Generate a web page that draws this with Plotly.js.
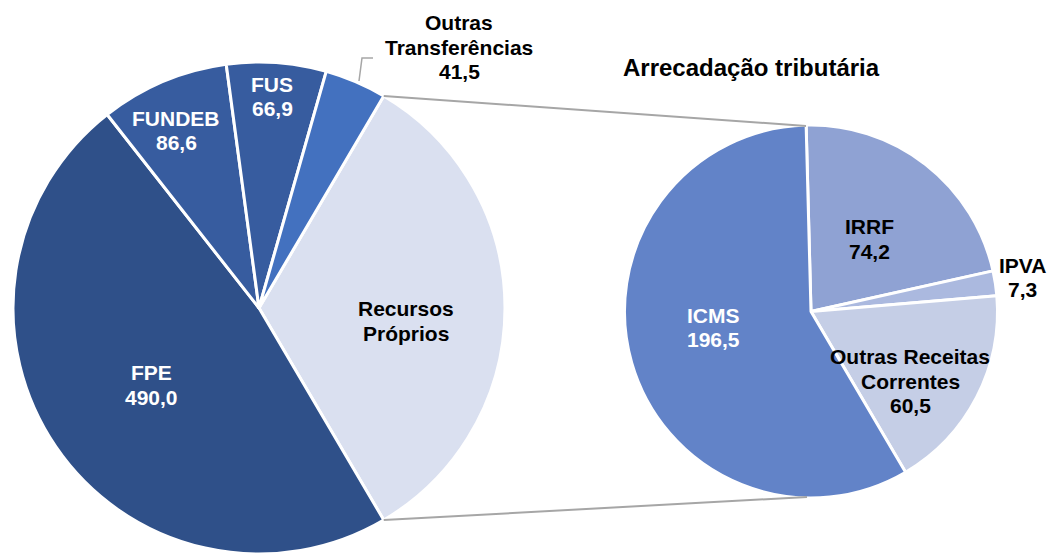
<!DOCTYPE html>
<html><head><meta charset="utf-8">
<script src="https://cdn.plot.ly/plotly-3.0.1.min.js"></script>
<style>html,body{margin:0;padding:0;background:#fff}#chart{width:1054px;height:556px}</style>
</head><body><div id="chart"></div>
<script>
// Transferências + Recursos Próprios (left pie)
const fontesLabels = ['Recursos<br>Próprios', 'FPE', 'FUNDEB', 'FUS', 'Outras<br>Transferências'];
const transferValues = [490.0, 86.6, 66.9, 41.5];
// Arrecadação tributária (right pie)
const tribLabels = ['IRRF', 'IPVA', 'Outras Receitas<br>Correntes', 'ICMS'];
const tribValues = [74.2, 7.3, 60.5, 196.5];
const chartTitle = 'Arrecadação tributária';

const recursosProprios = tribValues.reduce((a, b) => a + b, 0);
const fontesValues = [recursosProprios].concat(transferValues);
const fontesTotal = fontesValues.reduce((a, b) => a + b, 0);
const rpAngle = 360 * recursosProprios / fontesTotal;
const leftRotation = 90 - rpAngle / 2;

const W = 1054, H = 556;
const L = {cx: 259, cy: 308, r: 246};
const R = {cx: 811, cy: 311.5, r: 186.5};
const px = x => x / W, py = y => 1 - y / H;
function dom(c) { return {x: [px(c.cx - c.r), px(c.cx + c.r)], y: [py(c.cy + c.r), py(c.cy - c.r)]}; }

const FAM = 'Liberation Sans, Arial, sans-serif';
const leftColors = ['#DAE0F0', '#2F5089', '#375C9F', '#375C9F', '#4371BF'];
const rightColors = ['#8FA2D3', '#ABB9DF', '#C5CEE6', '#6283C8'];

const left = {
  type: 'pie', labels: fontesLabels, values: fontesValues, sort: false,
  direction: 'clockwise', rotation: leftRotation, domain: dom(L),
  marker: {colors: leftColors, line: {color: '#ffffff', width: 3}},
  textinfo: 'none', hoverinfo: 'label+value', showlegend: false
};
const right = {
  type: 'pie', labels: tribLabels, values: tribValues, sort: false,
  direction: 'clockwise', rotation: -1.5, domain: dom(R),
  marker: {colors: rightColors, line: {color: '#ffffff', width: 3}},
  textinfo: 'none', hoverinfo: 'label+value', showlegend: false
};

// connector lines from the "Recursos Próprios" slice edges to the second pie
const a0 = leftRotation * Math.PI / 180, a1 = (leftRotation + rpAngle) * Math.PI / 180;
const p0 = [L.cx + L.r * Math.sin(a0), L.cy - L.r * Math.cos(a0)];
const p1 = [L.cx + L.r * Math.sin(a1), L.cy - L.r * Math.cos(a1)];
const shapes = [
  {type: 'line', xref: 'paper', yref: 'paper', x0: px(p0[0]), y0: py(p0[1]), x1: px(R.cx - 5), y1: py(R.cy - R.r + 1), line: {color: '#A6A6A6', width: 2}},
  {type: 'line', xref: 'paper', yref: 'paper', x0: px(p1[0]), y0: py(p1[1]), x1: px(R.cx - 4), y1: py(R.cy + R.r - 1), line: {color: '#A6A6A6', width: 2}},
  {type: 'path', xref: 'paper', yref: 'paper', path: `M ${px(359)} ${py(81)} L ${px(362)} ${py(58)} L ${px(373)} ${py(58)}`, line: {color: '#A6A6A6', width: 1.5}}
];

const fmt = v => v.toFixed(1).replace('.', ',');
const annotations = [];
function addLabel(text, cx, cy, color, size, gap) {
  const lines = text.split('<br>');
  const n = lines.length;
  lines.forEach((t, i) => {
    annotations.push({xref: 'paper', yref: 'paper', x: px(cx), y: py(cy + (i - (n - 1) / 2) * gap),
      xanchor: 'center', yanchor: 'middle', text: t, showarrow: false,
      font: {family: FAM, weight: 'bold', size: size, color: color}});
  });
}
const S = 21, G = 24.5;
addLabel(chartTitle, 751, 67, '#000000', 24, G);
addLabel(fontesLabels[0], 406, 321, '#000000', S, G);
addLabel(fontesLabels[1] + '<br>' + fmt(fontesValues[1]), 151, 385, '#ffffff', S, G);
addLabel(fontesLabels[2] + '<br>' + fmt(fontesValues[2]), 176, 130.5, '#ffffff', S, G);
addLabel(fontesLabels[3] + '<br>' + fmt(fontesValues[3]), 272, 96.5, '#ffffff', S, G);
addLabel(fontesLabels[4] + '<br>' + fmt(fontesValues[4]), 459, 47.5, '#000000', S, G);
addLabel(tribLabels[0] + '<br>' + fmt(tribValues[0]), 869, 239, '#000000', S, G);
addLabel(tribLabels[1] + '<br>' + fmt(tribValues[1]), 1022, 277.5, '#000000', S, G);
addLabel(tribLabels[2] + '<br>' + fmt(tribValues[2]), 910, 381, '#000000', S, G);
addLabel(tribLabels[3] + '<br>' + fmt(tribValues[3]), 713, 327.5, '#ffffff', S, G);

Plotly.newPlot('chart', [left, right], {
  width: W, height: H, margin: {l: 0, r: 0, t: 0, b: 0},
  paper_bgcolor: '#ffffff', separators: ',.', showlegend: false,
  shapes: shapes, annotations: annotations
}, {displayModeBar: false, staticPlot: true});
</script></body></html>
